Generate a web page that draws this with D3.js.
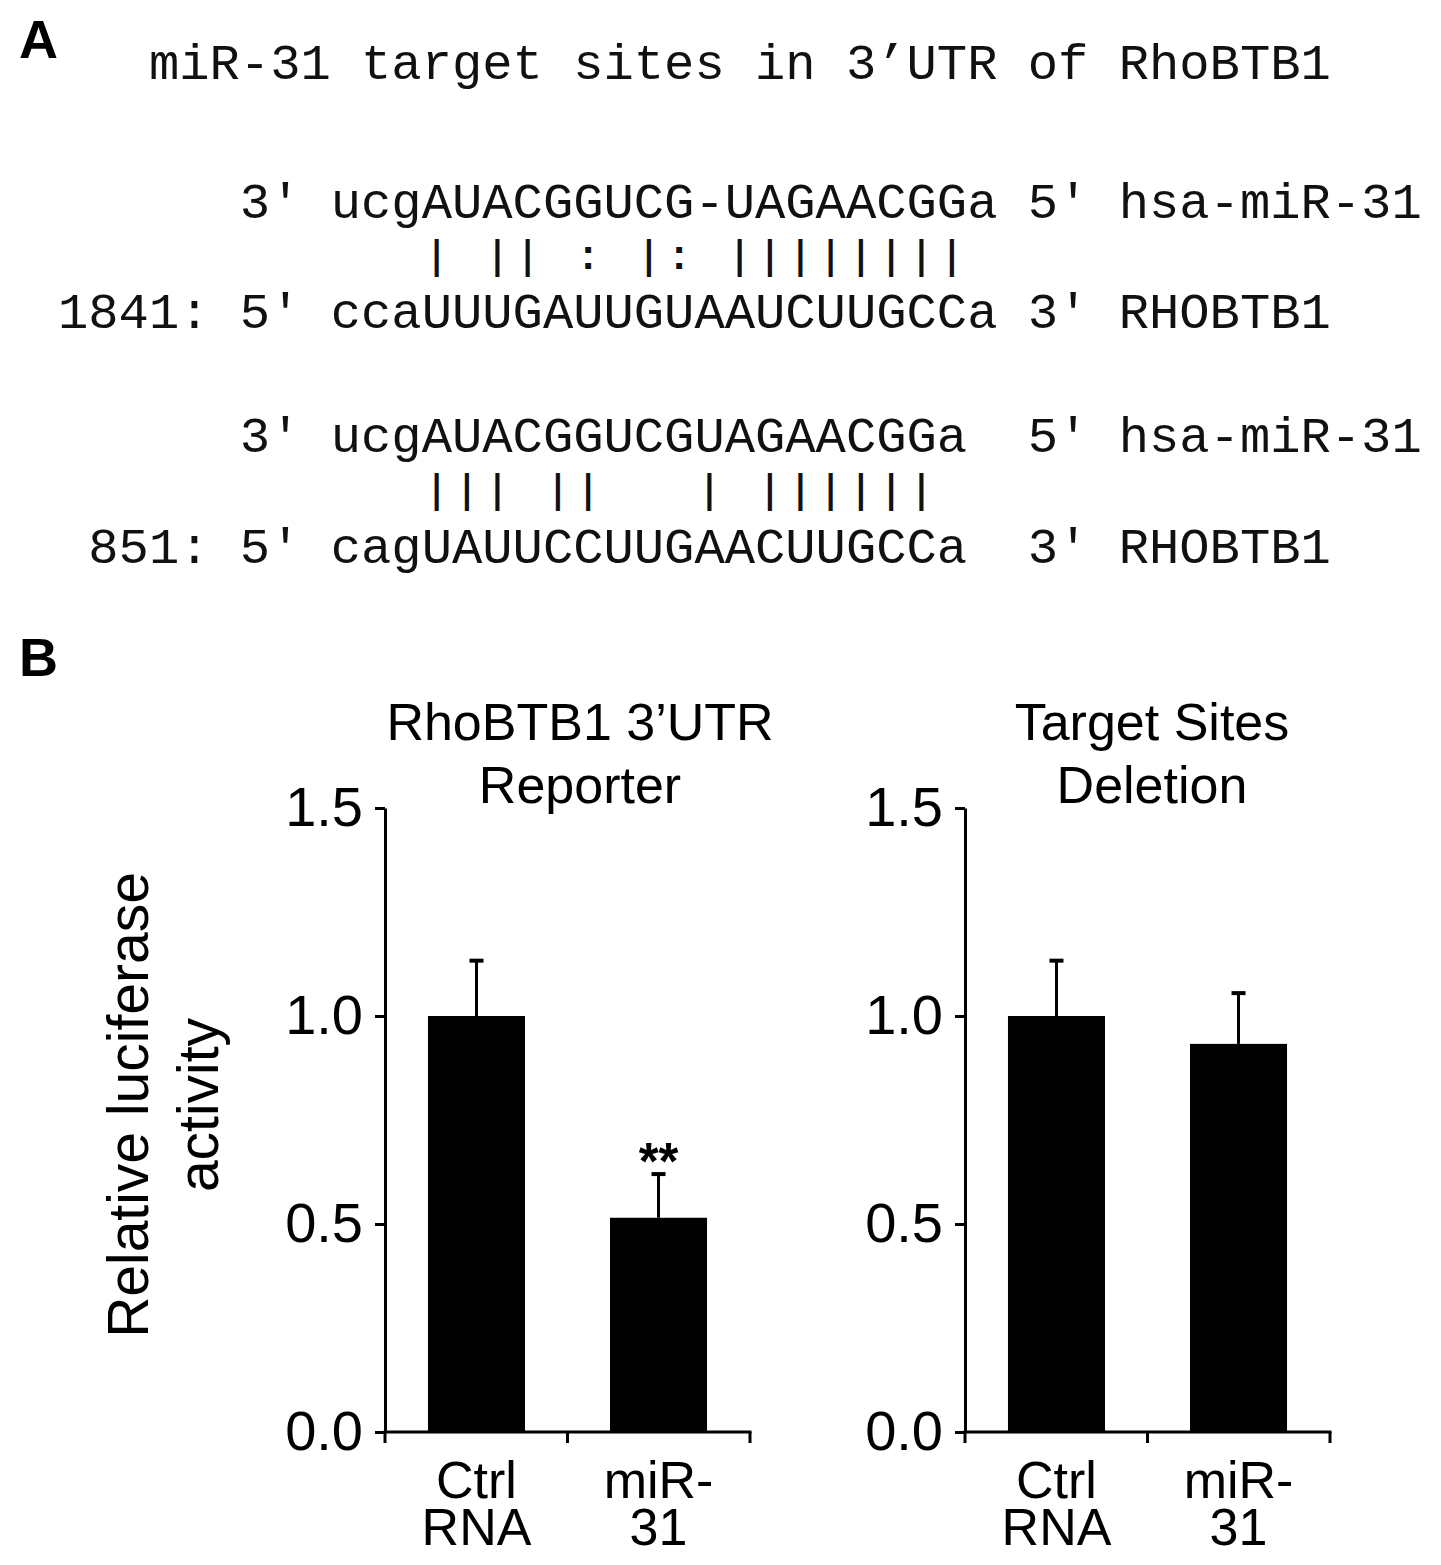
<!DOCTYPE html>
<html>
<head>
<meta charset="utf-8">
<script src="https://cdn.jsdelivr.net/npm/d3@7"></script>
<style>
  html, body { margin: 0; padding: 0; background: #fff; }
  svg { display: block; }
  .mono { font-family: "Liberation Mono", "Courier New", monospace; fill: #111; }
  .sans { font-family: "Liberation Sans", Arial, sans-serif; fill: #000; }
</style>
</head>
<body>
<svg id="chart" width="1441" height="1565"></svg>
<script>
// ---------- Data ----------
const panelATitle = "miR-31 target sites in 3’UTR of RhoBTB1";
// alignment rows (monospace, column-aligned)
const site1841 = [
  "      3' ucgAUACGGUCG-UAGAACGGa 5' hsa-miR-31",
  "            | || : |: ||||||||",
  "1841: 5' ccaUUUGAUUGUAAUCUUGCCa 3' RHOBTB1"
];
const site851 = [
  "      3' ucgAUACGGUCGUAGAACGGa  5' hsa-miR-31",
  "            ||| ||   | ||||||",
  " 851: 5' cagUAUUCCUUGAACUUGCCa  3' RHOBTB1"
];

const categories = ["Ctrl RNA", "miR-31"];
const categoryLines = [["Ctrl", "RNA"], ["miR-", "31"]];
const reporterValues = [1.0, 0.515];
const reporterErrors = [1.133, 0.62];   // top of error bar
const deletionValues = [1.0, 0.933];
const deletionErrors = [1.133, 1.055];
const reporterSig = ["", "**"];
const deletionSig = ["", ""];
const yTicks = [0.0, 0.5, 1.0, 1.5];
const panelTitles = [["RhoBTB1 3’UTR", "Reporter"], ["Target Sites", "Deletion"]];
const yLabelLines = ["Relative luciferase", "activity"];

// ---------- Layout ----------
const svg = d3.select("#chart");

// Panel letters
svg.append("text").attr("class", "sans").attr("x", 19).attr("y", 58)
  .attr("font-size", 54).attr("font-weight", "bold").text("A");
svg.append("text").attr("class", "sans").attr("x", 19).attr("y", 676)
  .attr("font-size", 54).attr("font-weight", "bold").text("B");

// Panel A text
const monoSize = 50.5;
const x0 = 58;
svg.append("text").attr("class", "mono").attr("x", x0).attr("y", 79)
  .attr("font-size", monoSize).attr("xml:space", "preserve")
  .style("white-space", "pre").text("   " + panelATitle);

function drawAlignment(rows, yTop, yMid, yBot) {
  const ys = [yTop, yMid, yBot];
  rows.forEach((r, i) => {
    const t = svg.append("text").attr("class", "mono")
      .attr("font-size", monoSize)
      .attr("xml:space", "preserve").style("white-space", "pre");
    if (i === 1) {
      t.attr("transform", `translate(${x0},${ys[i]}) scale(1,0.8)`).attr("x", 0).attr("y", 0);
    } else {
      t.attr("x", x0).attr("y", ys[i]);
    }
    t.text(r);
  });
}
drawAlignment(site1841, 218, 269, 328);
drawAlignment(site851, 452, 503, 563);

// ---------- Panel B charts ----------
const yScale = d3.scaleLinear().domain([0, 1.5]).range([1432, 808]);

function drawChart(axisX, values, errors, sig, titleLines, titleX) {
  const x = d3.scaleBand().domain(categories)
    .range([axisX, axisX + 365]).paddingInner(0.467).paddingOuter(0.236);
  const g = svg.append("g");

  // bars
  g.selectAll("rect.bar").data(values).enter().append("rect")
    .attr("x", (d, i) => x(categories[i]))
    .attr("width", x.bandwidth())
    .attr("y", d => yScale(d))
    .attr("height", d => yScale(0) - yScale(d))
    .attr("fill", "#000");

  // error bars
  const cap = 14;
  errors.forEach((e, i) => {
    const cx = x(categories[i]) + x.bandwidth() / 2;
    g.append("line").attr("x1", cx).attr("x2", cx)
      .attr("y1", yScale(values[i])).attr("y2", yScale(e))
      .attr("stroke", "#000").attr("stroke-width", 3);
    g.append("line").attr("x1", cx - cap / 2).attr("x2", cx + cap / 2)
      .attr("y1", yScale(e)).attr("y2", yScale(e))
      .attr("stroke", "#000").attr("stroke-width", 4);
    if (sig[i]) {
      g.append("text").attr("class", "sans").attr("x", cx).attr("y", yScale(e) + 5)
        .attr("text-anchor", "middle").attr("font-size", 51)
        .attr("font-weight", "bold").text(sig[i]);
    }
  });

  // y axis
  const yAxis = d3.axisLeft(yScale).tickValues(yTicks)
    .tickFormat(d3.format(".1f")).tickSize(10).tickPadding(12).tickSizeOuter(0);
  const ya = g.append("g").attr("transform", `translate(${axisX},0)`).call(yAxis);
  ya.select(".domain").attr("stroke", "#000").attr("stroke-width", 3);
  ya.selectAll(".tick line").attr("stroke", "#000").attr("stroke-width", 3);
  ya.selectAll(".tick text").attr("font-family", "Liberation Sans, Arial, sans-serif")
    .attr("font-size", 56).attr("fill", "#000");

  // x axis: line with ticks at band boundaries
  const r = x.range();
  const bounds = [r[0],
    (x(categories[0]) + x.bandwidth() + x(categories[1])) / 2,
    r[1]];
  g.append("line").attr("x1", r[0] - 1.5).attr("x2", r[1] + 1.5)
    .attr("y1", yScale(0)).attr("y2", yScale(0))
    .attr("stroke", "#000").attr("stroke-width", 3);
  bounds.forEach(b => {
    g.append("line").attr("x1", b).attr("x2", b)
      .attr("y1", yScale(0)).attr("y2", yScale(0) + 11)
      .attr("stroke", "#000").attr("stroke-width", 3);
  });

  // category labels
  categoryLines.forEach((lines, i) => {
    const cx = x(categories[i]) + x.bandwidth() / 2;
    lines.forEach((ln, j) => {
      g.append("text").attr("class", "sans").attr("x", cx)
        .attr("y", 1498 + j * 47).attr("text-anchor", "middle")
        .attr("font-size", 52).text(ln);
    });
  });

  // title
  titleLines.forEach((ln, j) => {
    g.append("text").attr("class", "sans").attr("x", titleX)
      .attr("y", 740 + j * 63).attr("text-anchor", "middle")
      .attr("font-size", 52).text(ln);
  });
}

drawChart(385, reporterValues, reporterErrors, reporterSig, panelTitles[0], 580);
drawChart(965, deletionValues, deletionErrors, deletionSig, panelTitles[1], 1152);

// y label
yLabelLines.forEach((ln, j) => {
  svg.append("text").attr("class", "sans")
    .attr("transform", `translate(${148 + j * 70},1105) rotate(-90)`)
    .attr("text-anchor", "middle").attr("font-size", 57).text(ln);
});
</script>
</body>
</html>
